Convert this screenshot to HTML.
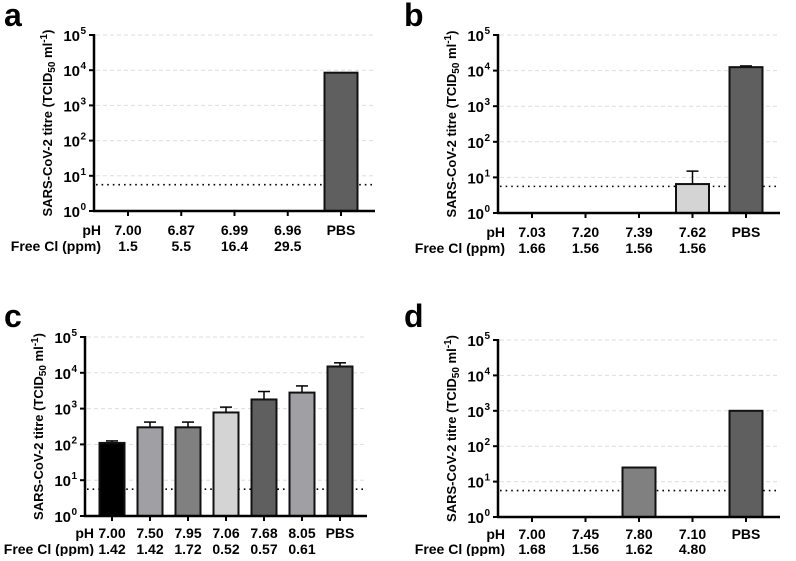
<!DOCTYPE html>
<html><head><meta charset="utf-8"><style>
body{margin:0;background:#fff;width:796px;height:556px;overflow:hidden}
svg{font-family:"Liberation Sans",Arial,sans-serif;font-weight:bold}
</style></head><body>
<svg id="fig" width="796" height="556" viewBox="0 0 796 556"></svg>
<script>
const panelLetters=["a","b","c","d"];
const phA=["7.00","6.87","6.99","6.96","PBS"], clA=["1.5","5.5","16.4","29.5",""];
const valA=[0,0,0,0,8500], errA=[0,0,0,0,0];
const colA=["#fff","#fff","#fff","#fff","#5f5f5f"];
const phB=["7.03","7.20","7.39","7.62","PBS"], clB=["1.66","1.56","1.56","1.56",""];
const valB=[0,0,0,6.5,12500], errB=[0,0,0,15,13500];
const colB=["#fff","#fff","#fff","#d4d4d4","#5f5f5f"];
const phC=["7.00","7.50","7.95","7.06","7.68","8.05","PBS"], clC=["1.42","1.42","1.72","0.52","0.57","0.61",""];
const valC=[110,300,300,780,1800,2800,15000], errC=[125,420,420,1100,3000,4300,19000];
const colC=["#000","#a0a0a4","#808080","#d4d4d4","#5f5f5f","#a0a0a4","#5f5f5f"];
const phD=["7.00","7.45","7.80","7.10","PBS"], clD=["1.68","1.56","1.62","4.80",""];
const valD=[0,0,25,0,1000], errD=[0,0,0,0,0];
const colD=["#fff","#fff","#808080","#fff","#5f5f5f"];
const detLimit=5.6;
const tickExps=[0,1,2,3,4,5];

const NS="http://www.w3.org/2000/svg", svg=document.getElementById("fig");
function mk(t,a,p){const e=document.createElementNS(NS,t);for(const k in a)e.setAttribute(k,a[k]);(p||svg).appendChild(e);return e;}

function panel(o){
  const g=mk("g",{});
  
  
  const yS=v=>o.bot-(Math.log10(Math.max(v,1)))*(o.bot-o.top)/5;
  const n=o.ph.length, step=(o.xEnd-o.x0-o.pad*2)/(n-1);
  const xS=i=>o.x0+o.pad+i*step;
  const L=mk("text",{x:o.lx,y:o.ly,"font-size":32,fill:"#000"},g);L.textContent=o.letter;
  
  tickExps.forEach(e=>{
    const y=yS(Math.pow(10,e));
    if(e>0){const gl=mk("line",{x1:o.x0+2,x2:o.xEnd,y1:y,y2:y,stroke:"#ddd","stroke-dasharray":"4,3","stroke-width":1},g);
      }
    mk("line",{x1:o.x0-5,x2:o.x0,y1:y,y2:y,stroke:"#000","stroke-width":2},g);
    const t=mk("text",{x:o.x0-14,y:y+6,"font-size":15,"text-anchor":"end"},g);t.textContent="10";
    
    const s=mk("text",{x:o.x0-13.5,y:y-1,"font-size":10},g);s.textContent=e;
  });
  const dy=yS(detLimit);
  const dl=mk("line",{x1:o.x0+2,x2:o.xEnd,y1:dy,y2:dy,stroke:"#000","stroke-width":1.6,"stroke-dasharray":"1.6,4"},g);
  
  o.val.forEach((v,i)=>{
    const x=xS(i);
    mk("line",{x1:x,x2:x,y1:o.bot,y2:o.bot+5,stroke:"#000","stroke-width":2},g);
    if(v>1){
      const y=yS(v);
      if(o.err[i]>v){const ey=yS(o.err[i]);
        mk("line",{x1:x,x2:x,y1:y,y2:ey,stroke:"#000","stroke-width":1.5},g);
        mk("line",{x1:x-6,x2:x+6,y1:ey,y2:ey,stroke:"#000","stroke-width":1.5},g);}
      const r=mk("rect",{x:x-o.bw/2,y:y,width:o.bw,height:o.bot-y,fill:o.col[i],stroke:"#111","stroke-width":2},g);
      
    }
    const p=mk("text",{x:x,y:o.bot+o.r1,"font-size":14,"text-anchor":"middle"},g);p.textContent=o.ph[i];
    
    const c=mk("text",{x:x,y:o.bot+o.r2,"font-size":14,"text-anchor":"middle"},g);c.textContent=o.cl[i];
    
  });
  mk("line",{x1:o.x0,x2:o.x0,y1:o.top-1,y2:o.bot+1,stroke:"#000","stroke-width":2.5},g);
  mk("line",{x1:o.x0-1,x2:o.xEnd,y1:o.bot,y2:o.bot,stroke:"#000","stroke-width":2.5},g);
  const ph=mk("text",{x:o.rowX,y:o.bot+o.r1,"font-size":14,"text-anchor":"end"},g);ph.textContent="pH";
  const fc=mk("text",{x:o.rowX,y:o.bot+o.r2,"font-size":14,"text-anchor":"end"},g);fc.textContent="Free Cl (ppm)";
  const cy=(o.top+o.bot)/2;
  const yt=mk("text",{x:0,y:0,"font-size":13,"text-anchor":"middle",transform:`translate(${o.x0-42},${cy}) rotate(-90)`},g);
  
  yt.innerHTML='SARS-CoV-2 titre (TCID<tspan font-size="10" dy="3">50</tspan><tspan dy="-3"> ml</tspan><tspan font-size="10" dy="-5">-1</tspan><tspan dy="5">)</tspan>';
}
panel({letter:"a",lx:4,ly:26,x0:94,xEnd:375,top:35,bot:211,pad:34,bw:33,ph:phA,cl:clA,val:valA,err:errA,col:colA,rowX:101,r1:24,r2:40});
panel({letter:"b",lx:404,ly:26,x0:498,xEnd:780,top:35,bot:213,pad:34,bw:33,ph:phB,cl:clB,val:valB,err:errB,col:colB,rowX:505,r1:24,r2:40});
panel({letter:"c",lx:4,ly:327,x0:85,xEnd:367,top:337,bot:516,pad:27,bw:25,ph:phC,cl:clC,val:valC,err:errC,col:colC,rowX:94,r1:22,r2:38});
panel({letter:"d",lx:404,ly:327,x0:498,xEnd:780,top:340,bot:517,pad:34,bw:33,ph:phD,cl:clD,val:valD,err:errD,col:colD,rowX:505,r1:22,r2:37});
</script>
</body></html>
